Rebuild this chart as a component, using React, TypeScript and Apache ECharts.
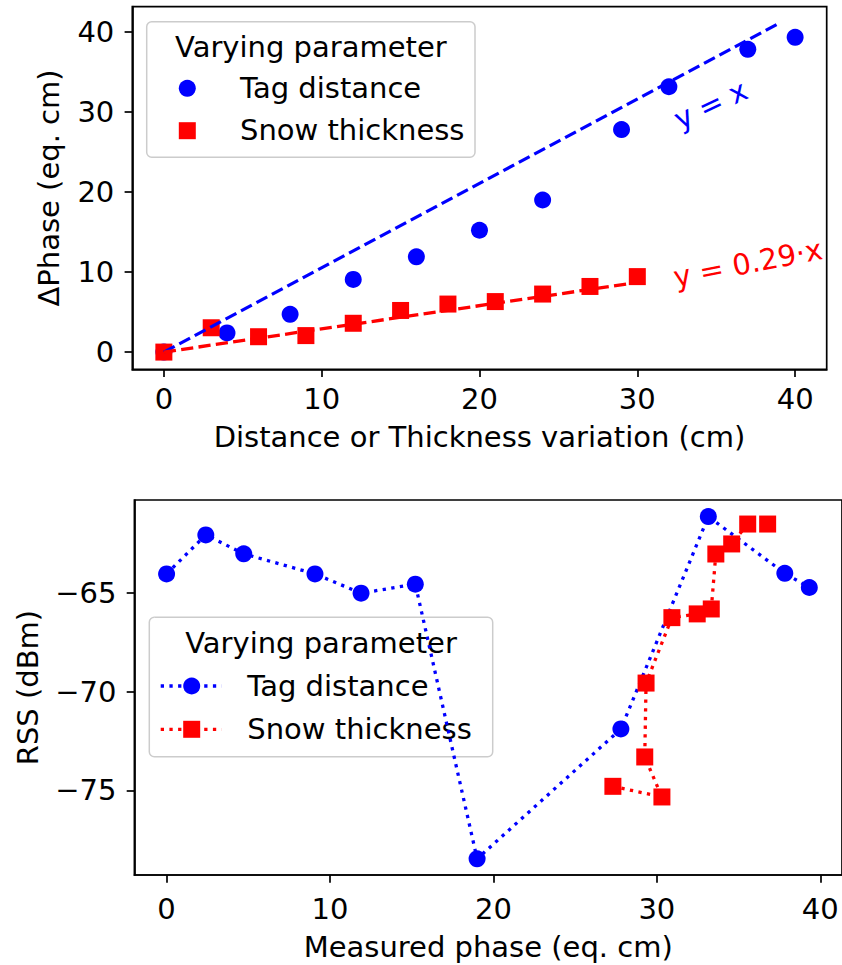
import React, { useEffect, useRef } from 'react';
import * as echarts from 'echarts';

// ---- data ----
const xTicks = [0, 10, 20, 30, 40];
const topYTicks = [0, 10, 20, 30, 40];
const rssTicks = [-75, -70, -65];

const tagDistance = [0, 4, 8, 12, 16, 20, 24, 29, 32, 37, 40];
const tagPhase = [0, 2.4, 4.72, 9.08, 11.9, 15.22, 19.0, 27.8, 33.15, 37.83, 39.33];
const tagRss = [-64.02, -62.04, -63.0, -64.02, -65.0, -64.54, -78.48, -71.89, -61.11, -63.99, -64.71];

const snowThickness = [0, 3, 6, 9, 12, 15, 18, 21, 24, 27, 30];
const snowDeltaPhase = [0, 3.04, 1.92, 2.06, 3.6, 5.2, 6.0, 6.31, 7.25, 8.2, 9.43];
const snowMeasuredPhase = [27.31, 30.31, 29.26, 29.34, 30.92, 32.47, 33.33, 33.61, 34.58, 35.56, 36.78];
const snowRss = [-74.8, -75.34, -73.31, -69.56, -66.24, -66.05, -65.8, -63.01, -62.5, -61.49, -61.49];

const tagFitX = [0, 39];
const tagFitY = [0, 41.1];
const snowFitX = [0, 30];
const snowFitY = [0, 8.7];

const tagFitLabel = 'y = x';
const snowFitLabel = 'y = 0.29\u00b7x';
const tagFitLabelPos = [34.65, 30.9];
const snowFitLabelPos = [37.0, 11.1];

const legendTitle = 'Varying parameter';
const seriesNames = ['Tag distance', 'Snow thickness'];

// ---- styling ----
const FONT = 'DejaVu Sans';
const FS = 29;
const BLUE = '#0000ff';
const RED = '#ff0000';
const SPINE = 1.7;
const LW = 3.3;
const DASH = [12.2, 5.3];
const DOT = [3.3, 5.4];
const MS = 17;

const zip = (a: number[], b: number[]) => a.map((v, i) => [v, b[i]]);
const minus = (v: number) => String(v).replace('-', '\u2212');

function axisBase(ticks: number[], labelMargin: number, formatter?: (v: number) => string) {
  return {
    type: 'value',
    splitLine: { show: false },
    axisLine: { show: true, onZero: false, lineStyle: { color: '#000', width: SPINE } },
    axisTick: { show: true, inside: false, length: 7.7, customValues: ticks, lineStyle: { color: '#000', width: SPINE } },
    axisLabel: {
      color: '#000', fontSize: FS, fontFamily: FONT, margin: labelMargin, customValues: ticks,
      formatter: formatter || ((v: number) => String(v)),
    },
    nameLocation: 'middle',
    nameTextStyle: { color: '#000', fontSize: FS, fontFamily: FONT },
  };
}

function legendBox(
  box: { x: number; y: number; w: number; h: number },
  titleY: number,
  markerX: number,
  textX: number,
  rowY: number[],
  withLines: boolean
) {
  const children: any[] = [
    {
      type: 'rect',
      shape: { x: box.x, y: box.y, width: box.w, height: box.h, r: 5 },
      style: { fill: 'rgba(255,255,255,0.8)', stroke: '#cccccc', lineWidth: 1.5 },
    },
    {
      type: 'text', x: box.x + box.w / 2, y: titleY,
      style: { text: legendTitle, fontSize: FS, fontFamily: FONT, fill: '#000', align: 'center', verticalAlign: 'middle' },
    },
  ];
  const colors = [BLUE, RED];
  rowY.forEach((y, i) => {
    if (withLines) {
      children.push({
        type: 'line',
        shape: { x1: markerX - 31, y1: y, x2: markerX + 30, y2: y },
        style: { stroke: colors[i], lineWidth: LW, lineDash: DOT },
      });
    }
    if (i === 0) {
      children.push({ type: 'circle', shape: { cx: markerX, cy: y, r: MS / 2 }, style: { fill: colors[i] } });
    } else {
      children.push({ type: 'rect', shape: { x: markerX - MS / 2, y: y - MS / 2, width: MS, height: MS }, style: { fill: colors[i] } });
    }
    children.push({
      type: 'text', x: textX, y: y - 0.5,
      style: { text: seriesNames[i], fontSize: FS, fontFamily: FONT, fill: '#000', align: 'left', verticalAlign: 'middle' },
    });
  });
  return { type: 'group', z: 100, children };
}

function fitLabel(pos: number[], text: string, rotate: number, color: string) {
  return {
    type: 'scatter', xAxisIndex: 0, yAxisIndex: 0, silent: true,
    data: [pos], symbolSize: 1, itemStyle: { color: 'rgba(255,255,255,0)' },
    label: {
      show: true, position: 'inside', formatter: text, rotate, color, opacity: 1,
      textBorderWidth: 0, textBorderColor: 'transparent', fontSize: FS, fontFamily: FONT,
    },
  };
}

export default function App() {
  const ref = useRef<HTMLDivElement>(null);
  useEffect(() => {
    if (!ref.current) return;
    const chart = echarts.init(ref.current, null, { renderer: 'svg' });
    const option: any = {
      animation: false,
      backgroundColor: '#ffffff',
      textStyle: { fontFamily: FONT },
      grid: [
        { left: 132.3, top: 6.7, width: 694.4, height: 362.6, show: true, borderColor: '#000', borderWidth: SPINE, containLabel: false },
        { left: 134.4, top: 500, width: 710, height: 375, show: true, borderColor: '#000', borderWidth: SPINE, containLabel: false },
      ],
      xAxis: [
        { ...axisBase(xTicks, 15), gridIndex: 0, min: -2, max: 42, name: 'Distance or Thickness variation (cm)', nameGap: 53 },
        { ...axisBase(xTicks, 19), gridIndex: 1, min: -1.97, max: 41.33, name: 'Measured phase (eq. cm)', nameGap: 57.5 },
      ],
      yAxis: [
        { ...axisBase(topYTicks, 18), gridIndex: 0, min: -2.15, max: 43.15, name: '\u0394Phase (eq. cm)', nameGap: 69 },
        { ...axisBase(rssTicks, 18, minus), gridIndex: 1, min: -79.3, max: -60.27, name: 'RSS (dBm)', nameGap: 92 },
      ],
      series: [
        {
          type: 'line', name: 'fit tag', xAxisIndex: 0, yAxisIndex: 0, data: zip(tagFitX, tagFitY),
          showSymbol: false, symbol: 'none', silent: true,
          lineStyle: { color: BLUE, width: LW, type: DASH, cap: 'butt' },
        },
        {
          type: 'line', name: 'fit snow', xAxisIndex: 0, yAxisIndex: 0, data: zip(snowFitX, snowFitY),
          showSymbol: false, symbol: 'none', silent: true,
          lineStyle: { color: RED, width: LW, type: DASH, cap: 'butt' },
        },
        {
          type: 'scatter', name: seriesNames[0], xAxisIndex: 0, yAxisIndex: 0,
          data: zip(tagDistance, tagPhase), symbol: 'circle', symbolSize: MS, itemStyle: { color: BLUE, opacity: 1 },
        },
        {
          type: 'scatter', name: seriesNames[1], xAxisIndex: 0, yAxisIndex: 0,
          data: zip(snowThickness, snowDeltaPhase), symbol: 'rect', symbolSize: MS, itemStyle: { color: RED, opacity: 1 },
        },
        fitLabel(tagFitLabelPos, tagFitLabel, 25, BLUE),
        fitLabel(snowFitLabelPos, snowFitLabel, 11, RED),
        {
          type: 'line', name: seriesNames[0], xAxisIndex: 1, yAxisIndex: 1,
          data: zip(tagPhase, tagRss), symbol: 'circle', symbolSize: MS, showSymbol: true, showAllSymbol: true,
          itemStyle: { color: BLUE, opacity: 1 }, lineStyle: { color: BLUE, width: LW, type: DOT, cap: 'butt' },
        },
        {
          type: 'line', name: seriesNames[1], xAxisIndex: 1, yAxisIndex: 1,
          data: zip(snowMeasuredPhase, snowRss), symbol: 'rect', symbolSize: MS, showSymbol: true, showAllSymbol: true,
          itemStyle: { color: RED, opacity: 1 }, lineStyle: { color: RED, width: LW, type: DOT, cap: 'butt' },
        },
      ],
      graphic: [
        legendBox({ x: 146.7, y: 21.7, w: 328.3, h: 135.6 }, 46.7, 187.3, 240, [88.3, 130.7], false),
        legendBox({ x: 149.3, y: 617.3, w: 343.4, h: 139.4 }, 642.5, 191.7, 247.3, [686, 729.3], true),
      ],
    };
    chart.setOption(option);
    return () => chart.dispose();
  }, []);
  return (
    <div
      ref={ref}
      style={{ position: 'absolute', left: 0, top: 0, width: 842, height: 965, background: '#fff' }}
    />
  );
}
